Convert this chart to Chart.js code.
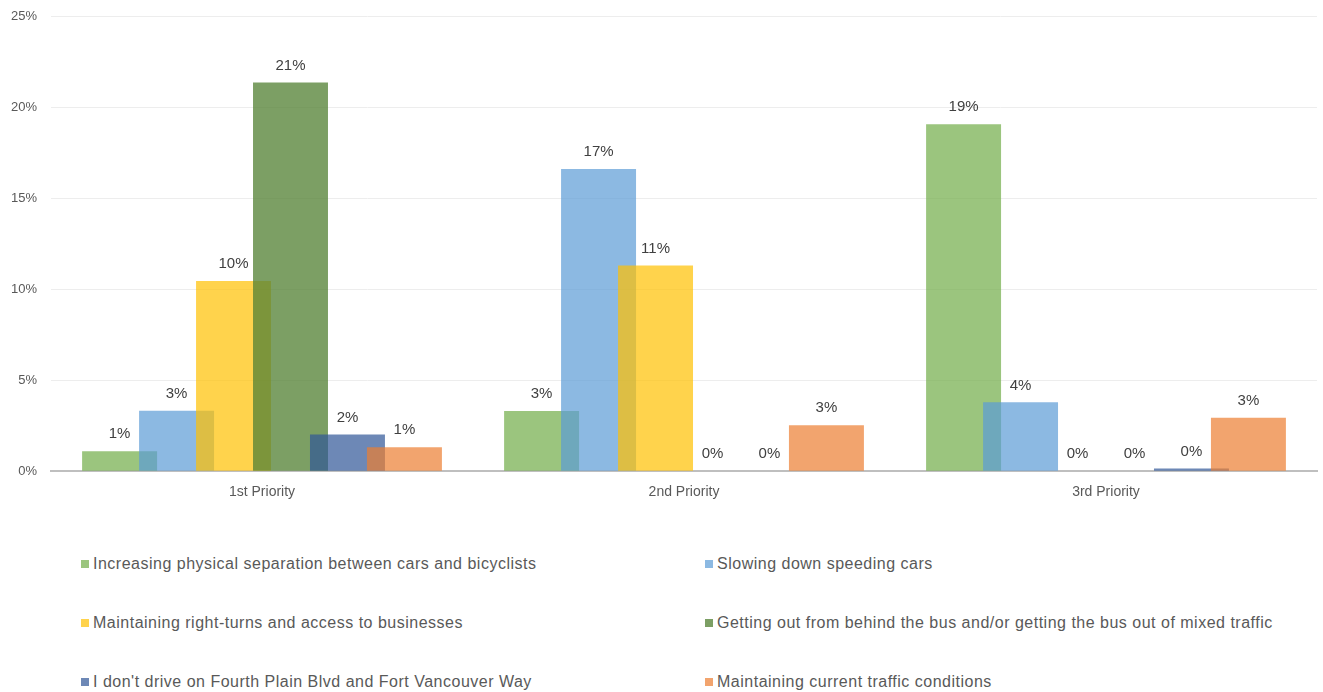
<!DOCTYPE html>
<html>
<head>
<meta charset="utf-8">
<script src="https://cdn.jsdelivr.net/npm/chart.js@4/dist/chart.umd.min.js"></script>
<style>
  html, body { margin: 0; padding: 0; background: #ffffff; }
  body { width: 1323px; height: 692px; position: relative; overflow: hidden; font-family: "Liberation Sans", Arial, sans-serif; }
  #chartWrap { position: absolute; left: 0; top: 0; width: 1323px; height: 520px; }
  .leg { position: absolute; display: flex; align-items: center; font-size: 16px; letter-spacing: 0.5px; color: #595959; white-space: nowrap; line-height: 18px; }
  .leg .box { width: 8px; height: 8px; margin-right: 4px; flex: none; }
</style>
</head>
<body>
<div id="chartWrap"><canvas id="c"></canvas></div>
<div id="legend"></div>
<script>
// ---- data ----
const categories = ["1st Priority", "2nd Priority", "3rd Priority"];
const seriesNames = [
  "Increasing physical separation between cars and bicyclists",
  "Slowing down speeding cars",
  "Maintaining right-turns and access to businesses",
  "Getting out from behind the bus and/or getting the bus out of mixed traffic",
  "I don't drive on Fourth Plain Blvd and Fort Vancouver Way",
  "Maintaining current traffic conditions"
];
const separationValues   = [1.1, 3.3, 19.05];
const speedingValues     = [3.32, 16.6, 3.78];
const rightTurnValues    = [10.45, 11.3, 0];
const busValues          = [21.35, 0, 0];
const dontDriveValues    = [2.02, 0, 0.15];
const currentValues      = [1.32, 2.52, 2.94];
const yTicks = [0, 5, 10, 15, 20, 25];

const seriesValues = [separationValues, speedingValues, rightTurnValues, busValues, dontDriveValues, currentValues];
const seriesColors = [
  "rgba(112,173,71,0.7)",
  "rgba(91,155,213,0.7)",
  "rgba(255,192,0,0.7)",
  "rgba(84,130,53,0.77)",
  "rgba(47,85,151,0.7)",
  "rgba(237,125,49,0.7)"
];

const datasets = seriesNames.map((name, i) => ({
  label: name,
  data: seriesValues[i],
  backgroundColor: seriesColors[i],
  borderWidth: 0,
  categoryPercentage: 0.81,
  barPercentage: 1.316
}));

// Draw later series on top (like the original), and add value labels.
const orderAndLabels = {
  id: 'orderAndLabels',
  beforeDatasetsDraw(chart) {
    const ctx = chart.ctx;
    for (let i = 0; i < chart.data.datasets.length; i++) {
      const meta = chart.getDatasetMeta(i);
      if (meta.visible) meta.controller.draw();
    }
    ctx.save();
    ctx.font = '15px "Liberation Sans", Arial, sans-serif';
    ctx.fillStyle = '#404040';
    ctx.textAlign = 'center';
    ctx.textBaseline = 'middle';
    for (let i = 0; i < chart.data.datasets.length; i++) {
      const meta = chart.getDatasetMeta(i);
      meta.data.forEach((bar, j) => {
        const v = chart.data.datasets[i].data[j];
        ctx.fillText(Math.round(v) + '%', bar.x, bar.y - 17);
      });
    }
    ctx.restore();
    return false;
  }
};

new Chart(document.getElementById('c'), {
  type: 'bar',
  data: { labels: categories, datasets },
  options: {
    responsive: true,
    maintainAspectRatio: false,
    animation: false,
    layout: { padding: { left: 9, right: 6, top: 16, bottom: 6 } },
    plugins: { legend: { display: false }, tooltip: { enabled: false } },
    scales: {
      x: {
        grid: { display: false, drawTicks: false },
        border: { display: true, color: '#BFBFBF', width: 2 },
        ticks: { color: '#595959', padding: 13, font: { family: '"Liberation Sans", Arial, sans-serif', size: 14 } }
      },
      y: {
        min: 0, max: 25,
        afterBuildTicks(scale) { scale.ticks = yTicks.map(v => ({ value: v })); },
        grid: { color: '#EDEDED', lineWidth: 1, drawTicks: true, tickLength: 12, tickColor: 'rgba(0,0,0,0)' },
        border: { display: false },
        ticks: { color: '#595959', padding: 2, font: { family: '"Liberation Sans", Arial, sans-serif', size: 13 }, callback: v => v + '%' }
      }
    }
  },
  plugins: [orderAndLabels]
});

// ---- legend (two columns) ----
const legend = document.getElementById('legend');
const colX = [81, 705];
const rowY = [564, 623, 682];
seriesNames.forEach((name, i) => {
  const d = document.createElement('div');
  d.className = 'leg';
  d.style.left = colX[i % 2] + 'px';
  d.style.top = (rowY[Math.floor(i / 2)] - 9) + 'px';
  const b = document.createElement('span');
  b.className = 'box';
  b.style.background = seriesColors[i];
  const t = document.createElement('span');
  t.textContent = name;
  d.appendChild(b); d.appendChild(t);
  legend.appendChild(d);
});
</script>
</body>
</html>
